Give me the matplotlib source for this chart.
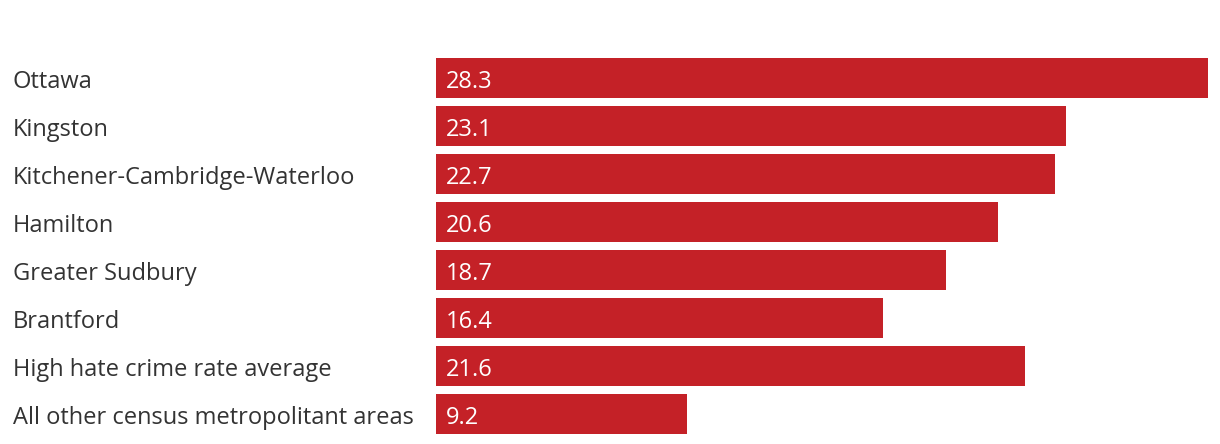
import matplotlib
matplotlib.use("Agg")
import matplotlib.pyplot as plt
import matplotlib.transforms as mtransforms

plt.rcParams['font.family'] = ['Open Sans', 'DejaVu Sans']

# data
areas = ['Ottawa', 'Kingston', 'Kitchener-Cambridge-Waterloo', 'Hamilton',
         'Greater Sudbury', 'Brantford', 'High hate crime rate average',
         'All other census metropolitant areas']
rates = [28.3, 23.1, 22.7, 20.6, 18.7, 16.4, 21.6, 9.2]

bar_color = '#c42127'
text_color = '#333333'
W, H = 1220, 444

fig = plt.figure(figsize=(W / 100, H / 100), dpi=100)
bh = 0.83
ax = fig.add_axes([436 / W, 1 - 433.5 / H, (1208 - 436) / W, (433.5 - 58) / H])
ypos = list(range(len(areas)))
ax.barh(ypos, rates, height=bh, color=bar_color)
ax.set_xlim(0, max(rates))
ax.set_ylim(len(areas) - 1 + bh / 2, -bh / 2)
ax.axis('off')

# area labels at left edge of the figure, baseline a bit under bar centre
trans = mtransforms.blended_transform_factory(fig.transFigure, ax.transData)
trans = mtransforms.offset_copy(trans, fig=fig, x=0, y=-10, units='dots')
for y, name in zip(ypos, areas):
    ax.text(13 / W, y, name, transform=trans, ha='left', va='baseline',
            fontsize=17, color=text_color)

# values inside bars
off = mtransforms.offset_copy(ax.transData, fig=fig, x=10, y=-10, units='dots')
for y, v in zip(ypos, rates):
    ax.text(0, y, f'{v:.1f}', transform=off, ha='left', va='baseline',
            fontsize=17, color='white')

fig.savefig('out.png', dpi=100)
